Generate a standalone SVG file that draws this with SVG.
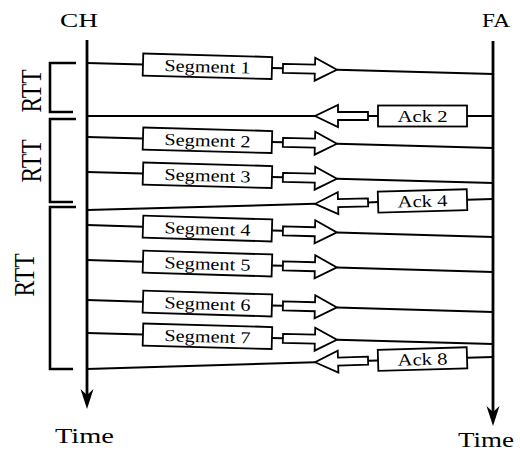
<svg xmlns="http://www.w3.org/2000/svg" width="520" height="451" viewBox="0 0 520 451">
<style>
  .axis { stroke: #000; stroke-width: 2.8; fill: none; }
  .msg { stroke: #000; stroke-width: 2; fill: none; }
  .box { stroke: #000; stroke-width: 1.8; fill: #fff; }
  .harrow { stroke: #000; stroke-width: 1.8; fill: #fff; stroke-linejoin: miter; }
  .brk { stroke: #000; stroke-width: 2.6; fill: none; }
  .lbl { font-family: "Liberation Serif", "Times New Roman", serif; fill: #000; }
  .blbl { font-family: "Liberation Serif", "Times New Roman", serif; font-size: 17px; fill: #000; text-anchor: middle; }
  .head { fill: #000; stroke: none; }
</style>
<defs>
  <g id="segShape">
    <line class="msg" x1="0" y1="0" x2="56" y2="0"/>
    <rect class="box" x="56" y="-11" width="129" height="22"/>
    <line class="msg" x1="185" y1="0" x2="196" y2="0"/>
    <polygon class="harrow" points="196,-4.5 228,-4.5 228,-11.5 250,0 228,11.5 228,4.5 196,4.5"/>
    <line class="msg" x1="250" y1="0" x2="406.3" y2="0"/>
  </g>
  <g id="ackShape">
    <line class="msg" x1="0" y1="0" x2="-26" y2="0"/>
    <rect class="box" x="-115" y="-10.5" width="89" height="21"/>
    <line class="msg" x1="-115" y1="0" x2="-125" y2="0"/>
    <polygon class="harrow" points="-125,-4 -155,-4 -155,-11 -178,0 -155,11 -155,4 -125,4"/>
    <line class="msg" x1="-178" y1="0" x2="-406.3" y2="0"/>
  </g>
</defs>

<g id="CH">
  <text class="lbl" x="60" y="27" font-size="19" textLength="38" lengthAdjust="spacingAndGlyphs">CH</text>
  <line class="axis" x1="87" y1="40" x2="87" y2="395"/>
  <path class="head" d="M87,409 L80.5,389 L87,395 L93.5,389 Z"/>
  <text class="lbl" x="55" y="443" font-size="21" textLength="59" lengthAdjust="spacingAndGlyphs">Time</text>
</g>

<g id="FA">
  <text class="lbl" x="482" y="27" font-size="19" textLength="28" lengthAdjust="spacingAndGlyphs">FA</text>
  <line class="axis" x1="493" y1="41" x2="493" y2="412"/>
  <path class="head" d="M493,426 L486.5,406 L493,412 L499.5,406 Z"/>
  <text class="lbl" x="458" y="447" font-size="21" textLength="56" lengthAdjust="spacingAndGlyphs">Time</text>
</g>

<g id="rtt1">
  <polyline class="brk" points="76,63 50,63 50,112 73,112"/>
  <text class="lbl" font-size="22" text-anchor="middle" transform="translate(41,91) scale(1.35,1) rotate(-90)" x="0" y="0" textLength="43" lengthAdjust="spacingAndGlyphs">RTT</text>
</g>
<g id="rtt2">
  <polyline class="brk" points="76,119 50,119 50,202 73,202"/>
  <text class="lbl" font-size="22" text-anchor="middle" transform="translate(41,161) scale(1.35,1) rotate(-90)" x="0" y="0" textLength="43" lengthAdjust="spacingAndGlyphs">RTT</text>
</g>
<g id="rtt3">
  <polyline class="brk" points="76,207 50,207 50,369 73,369"/>
  <text class="lbl" font-size="22" text-anchor="middle" transform="translate(34,275) scale(1.35,1) rotate(-90)" x="0" y="0" textLength="43" lengthAdjust="spacingAndGlyphs">RTT</text>
</g>

<g id="connectors">
  <g id="seg1" transform="translate(87,63) rotate(1.552)">
    <use href="#segShape"/>
    <text class="blbl" x="120.5" y="6" textLength="86" lengthAdjust="spacingAndGlyphs">Segment 1</text>
  </g>
  <g id="ack2" transform="translate(493,116)">
    <use href="#ackShape"/>
    <text class="blbl" x="-70.5" y="6" textLength="50" lengthAdjust="spacingAndGlyphs">Ack 2</text>
  </g>
  <g id="seg2" transform="translate(87,137) rotate(1.552)">
    <use href="#segShape"/>
    <text class="blbl" x="120.5" y="6" textLength="86" lengthAdjust="spacingAndGlyphs">Segment 2</text>
  </g>
  <g id="seg3" transform="translate(87,172) rotate(1.552)">
    <use href="#segShape"/>
    <text class="blbl" x="120.5" y="6" textLength="86" lengthAdjust="spacingAndGlyphs">Segment 3</text>
  </g>
  <g id="ack4" transform="translate(493,199) rotate(-1.552)">
    <use href="#ackShape"/>
    <text class="blbl" x="-70.5" y="6" textLength="50" lengthAdjust="spacingAndGlyphs">Ack 4</text>
  </g>
  <g id="seg4" transform="translate(87,225) rotate(1.693)">
    <use href="#segShape"/>
    <text class="blbl" x="120.5" y="6" textLength="86" lengthAdjust="spacingAndGlyphs">Segment 4</text>
  </g>
  <g id="seg5" transform="translate(87,260) rotate(1.693)">
    <use href="#segShape"/>
    <text class="blbl" x="120.5" y="6" textLength="86" lengthAdjust="spacingAndGlyphs">Segment 5</text>
  </g>
  <g id="seg6" transform="translate(87,300) rotate(1.693)">
    <use href="#segShape"/>
    <text class="blbl" x="120.5" y="6" textLength="86" lengthAdjust="spacingAndGlyphs">Segment 6</text>
  </g>
  <g id="seg7" transform="translate(87,333) rotate(1.552)">
    <use href="#segShape"/>
    <text class="blbl" x="120.5" y="6" textLength="86" lengthAdjust="spacingAndGlyphs">Segment 7</text>
  </g>
  <g id="ack8" transform="translate(493,357) rotate(-1.693)">
    <use href="#ackShape"/>
    <text class="blbl" x="-70.5" y="6" textLength="50" lengthAdjust="spacingAndGlyphs">Ack 8</text>
  </g>
</g>
</svg>
